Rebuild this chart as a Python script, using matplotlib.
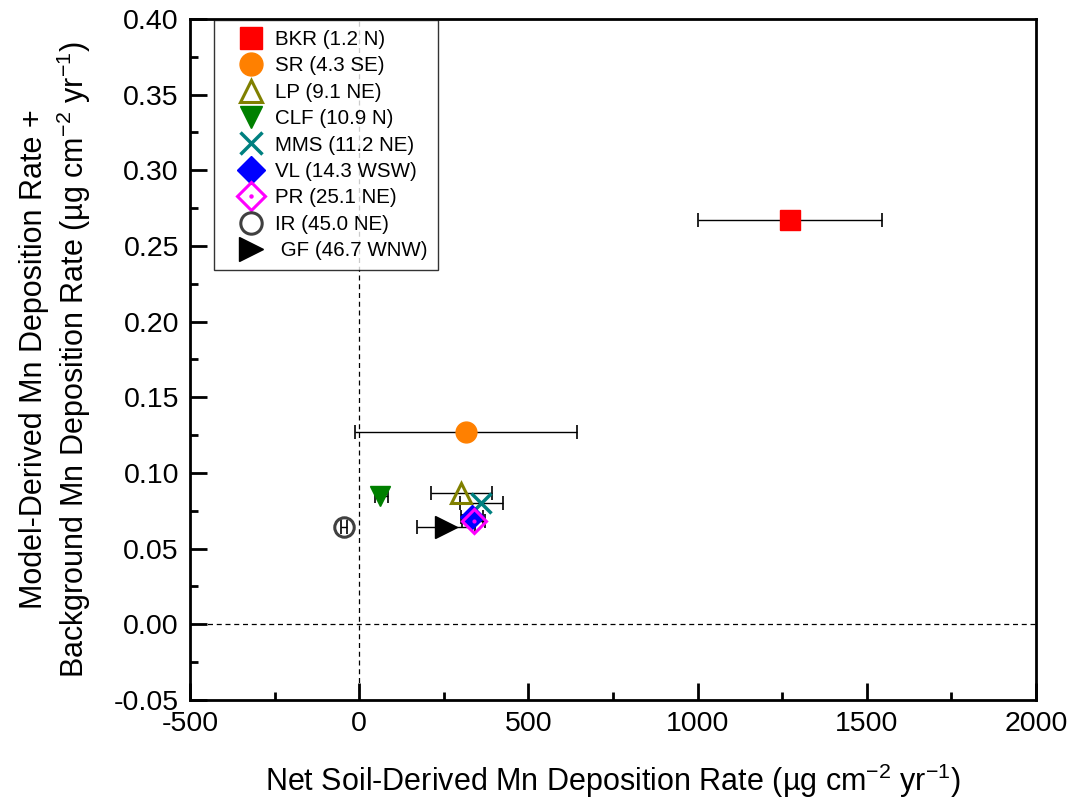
import matplotlib
matplotlib.use("Agg")
import matplotlib.pyplot as plt
from matplotlib.legend_handler import HandlerTuple
from matplotlib.ticker import MultipleLocator

plt.rcParams["font.family"] = ["Liberation Sans", "DejaVu Sans"]
plt.rcParams["mathtext.fontset"] = "custom"
plt.rcParams["mathtext.rm"] = "Liberation Sans"
plt.rcParams["mathtext.it"] = "Liberation Sans:italic"
plt.rcParams["axes.unicode_minus"] = False

# site data: label, x (net soil-derived), x error low/high, y (model + background)
sites = ["BKR (1.2 N)", "SR (4.3 SE)", "LP (9.1 NE)", "CLF (10.9 N)", "MMS (11.2 NE)",
         "VL (14.3 WSW)", "PR (25.1 NE)", "IR (45.0 NE)", " GF (46.7 WNW)"]
x_vals = [1273, 316, 301, 61, 360, 333, 339, -45, 256]
x_lo = [1000, -12, 212, 47, 298, 300, 305, -55, 171]
x_hi = [1545, 644, 392, 85, 425, 366, 372, -35, 341]
y_vals = [0.267, 0.127, 0.087, 0.085, 0.080, 0.071, 0.068, 0.064, 0.064]

markers = ["s", "o", "^", "v", "x", "D", "D", "o", ">"]
colors = ["#ff0000", "#ff8000", "#808000", "#008000", "#008080",
          "#0000ff", "#ff00ff", "#404040", "#000000"]
filled = [True, True, False, True, True, True, False, False, True]
sizes = [14, 15, 14, 15, 15, 12.5, 12.5, 14, 16]

fig = plt.figure(figsize=(10.73, 8.07), dpi=100)
ax = fig.add_axes([0.1771, 0.1326, 0.7884, 0.8439])

ax.axvline(0, color="black", lw=0.9, ls=(0, (4, 3)), zorder=1)
ax.axhline(0, color="black", lw=0.9, ls=(0, (4, 3)), zorder=1)

handles = []
for i in range(len(sites)):
    xerr = [[x_vals[i] - x_lo[i]], [x_hi[i] - x_vals[i]]]
    ax.errorbar(x_vals[i], y_vals[i], xerr=xerr, fmt="none", ecolor="black",
                elinewidth=1.0, capsize=5, capthick=1.2, zorder=2)
    if markers[i] == "x":
        h, = ax.plot(x_vals[i], y_vals[i], marker="x", ms=sizes[i], mew=2.5,
                     color=colors[i], ls="none", zorder=3)
    elif filled[i]:
        h, = ax.plot(x_vals[i], y_vals[i], marker=markers[i], ms=sizes[i],
                     mfc=colors[i], mec=colors[i], ls="none", zorder=3)
    else:
        h, = ax.plot(x_vals[i], y_vals[i], marker=markers[i], ms=sizes[i],
                     mfc="none", mec=colors[i], mew=2.2, ls="none", zorder=3)
    if sites[i].startswith("PR"):
        d, = ax.plot(x_vals[i], y_vals[i], marker="o", ms=2, color=colors[i],
                     ls="none", zorder=4)
        h = (h, d)
    handles.append(h)

ax.set_xlim(-500, 2000)
ax.set_ylim(-0.05, 0.40)
ax.xaxis.set_major_locator(MultipleLocator(500))
ax.xaxis.set_minor_locator(MultipleLocator(250))
ax.yaxis.set_major_locator(MultipleLocator(0.05))
ax.yaxis.set_minor_locator(MultipleLocator(0.025))
ax.set_yticklabels([f"{v:.2f}" for v in ax.get_yticks()])
ax.tick_params(which="both", direction="in", top=False, right=False,
               labelsize=20.5, width=2)
ax.tick_params(which="major", length=12, pad=8)
ax.tick_params(which="minor", length=6)
for s in ax.spines.values():
    s.set_linewidth(2)

ax.set_xlabel("Net Soil-Derived Mn Deposition Rate (µg cm$^{-2}$ yr$^{-1}$)",
              fontsize=22, labelpad=18)
ax.set_ylabel("Model-Derived Mn Deposition Rate +\n"
              "Background Mn Deposition Rate (µg cm$^{-2}$ yr$^{-1}$)",
              fontsize=22, labelpad=15, linespacing=1.2)

leg = ax.legend(handles, sites, loc="upper left", bbox_to_anchor=(0.028, 0.999),
                borderaxespad=0, fontsize=14.8, frameon=True, fancybox=False,
                edgecolor="black", labelspacing=0.36, handletextpad=-0.1,
                borderpad=0.5, handlelength=2.6, numpoints=1, markerscale=1.1,
                handler_map={tuple: HandlerTuple(ndivide=1, pad=0)})
leg.get_frame().set_linewidth(1.0)

fig.savefig("out.png", dpi=100)
